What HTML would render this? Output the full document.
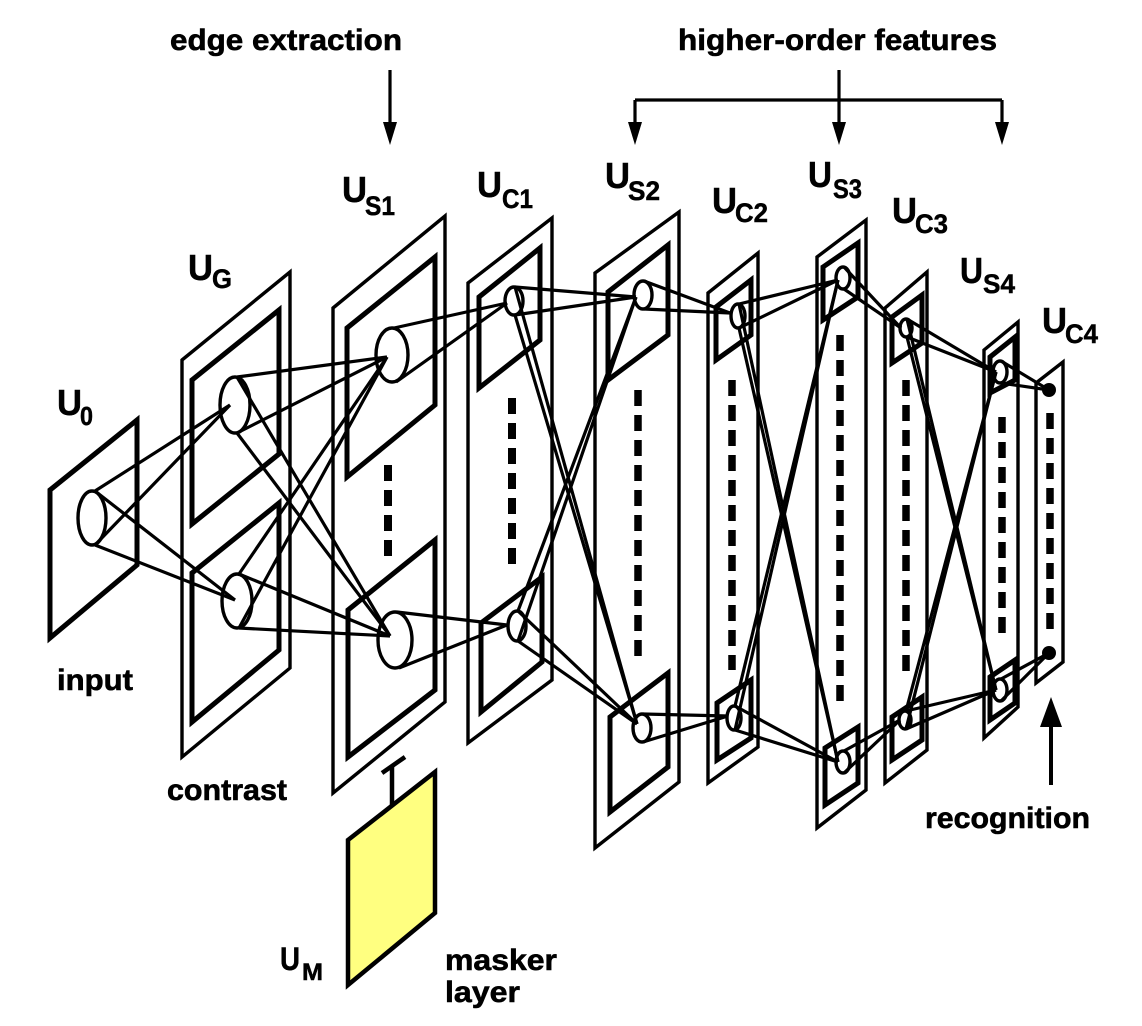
<!DOCTYPE html>
<html><head><meta charset="utf-8"><style>
html,body{margin:0;padding:0;background:#fff;}
svg{display:block;}
text{font-family:"Liberation Sans",Arial,sans-serif;font-weight:bold;fill:#000;}
</style></head><body>
<svg width="1142" height="1026" viewBox="0 0 1142 1026" xmlns="http://www.w3.org/2000/svg">
<rect width="1142" height="1026" fill="#fff"/>

<!-- top labels and arrows -->
<text x="170" y="50" font-size="30" textLength="232" lengthAdjust="spacingAndGlyphs" stroke="#000" stroke-width="0.6">edge extraction</text>
<text x="678" y="50" font-size="30" textLength="319" lengthAdjust="spacingAndGlyphs" stroke="#000" stroke-width="0.6">higher-order features</text>
<g stroke="#000" stroke-width="3.2" fill="none">
<line x1="390" y1="70" x2="390" y2="130"/>
<line x1="839" y1="70" x2="839" y2="130"/>
<line x1="635" y1="100" x2="1002" y2="100"/>
<line x1="635" y1="100" x2="635" y2="130"/>
<line x1="1002" y1="100" x2="1002" y2="130"/>
</g>
<g fill="#000">
<polygon points="383,122 397,122 390,145"/>
<polygon points="628,122 642,122 635,145"/>
<polygon points="832,122 846,122 839,145"/>
<polygon points="995,122 1009,122 1002,145"/>
</g>

<!-- planes: outer frames -->
<g fill="none" stroke="#000" stroke-linejoin="miter">
<polygon points="50,490 137,420 137,565 50,638" stroke-width="5"/>
<polygon points="182,360 290,272 290,668 182,757" stroke-width="3.4"/>
<polygon points="333,308 445,216 445,702 333,793" stroke-width="3.4"/>
<polygon points="468,283 552,218 552,680 468,743" stroke-width="3.4"/>
<polygon points="595,273 679,212 679,782 595,848" stroke-width="3.4"/>
<polygon points="708,293 758,253 758,747 708,783" stroke-width="3.4"/>
<polygon points="817,257 866,220 866,790 817,828" stroke-width="3.4"/>
<polygon points="885,308 927,272 927,750 885,783" stroke-width="3.4"/>
<polygon points="984,350 1018,322 1018,707 984,738" stroke-width="3.4"/>
<polygon points="1036,383 1063,362 1063,662 1036,683" stroke-width="3.4"/>
</g>
<!-- inner frames -->
<g fill="none" stroke="#000" stroke-width="5">
<polygon points="192,380 279,310 279,454 192,524"/>
<polygon points="192,573 279,503 279,650 192,722"/>
<polygon points="347,328 435,257 435,405 347,477"/>
<polygon points="348,610 435,540 435,690 348,757"/>
<polygon points="479,297 540,248 540,340 479,388"/>
<polygon points="481,623 542,577 542,662 481,712"/>
<polygon points="608,292 668,245 668,335 608,380"/>
<polygon points="610,717 668,673 668,767 610,812"/>
<polygon points="716,307 751,280 751,335 716,360"/>
<polygon points="717,703 751,680 751,738 717,760"/>
<polygon points="823,267 858,243 858,297 823,320"/>
<polygon points="825,748 858,727 858,783 825,805"/>
<polygon points="892,317 922,295 922,343 892,363"/>
<polygon points="892,717 922,697 922,740 892,760"/>
<polygon points="990,357 1015,337 1015,380 990,393"/>
<polygon points="990,677 1015,660 1015,703 990,720"/>
</g>

<!-- dashed columns -->
<g stroke="#000" fill="none" stroke-dasharray="16 9">
<line x1="388" y1="465" x2="388" y2="560" stroke-width="8"/>
<line x1="512" y1="398" x2="512" y2="567" stroke-width="8"/>
<line x1="638" y1="390" x2="638" y2="660" stroke-width="7.5"/>
<line x1="732" y1="380" x2="732" y2="670" stroke-width="7.5"/>
<line x1="840" y1="335" x2="840" y2="703" stroke-width="7.5"/>
<line x1="906" y1="380" x2="906" y2="673" stroke-width="7.5"/>
<line x1="1002" y1="417" x2="1002" y2="637" stroke-width="7.5"/>
<line x1="1050" y1="413" x2="1050" y2="630" stroke-width="7.5"/>
</g>

<!-- connection lines -->
<g stroke="#000" stroke-width="3.2" fill="none">
<!-- U0 -> UG -->
<line x1="95" y1="491" x2="230" y2="405"/>
<line x1="95" y1="545" x2="230" y2="405"/>
<line x1="95" y1="491" x2="235" y2="600"/>
<line x1="95" y1="545" x2="235" y2="600"/>
<!-- UG -> US1 -->
<line x1="237" y1="377" x2="387" y2="357"/>
<line x1="237" y1="433" x2="387" y2="357"/>
<line x1="237" y1="377" x2="390" y2="636"/>
<line x1="237" y1="433" x2="390" y2="636"/>
<line x1="239" y1="574" x2="387" y2="357"/>
<line x1="239" y1="628" x2="387" y2="357"/>
<line x1="239" y1="574" x2="390" y2="636"/>
<line x1="239" y1="628" x2="390" y2="636"/>
<!-- US1 -> UC1 -->
<line x1="394" y1="328" x2="507" y2="303"/>
<line x1="396" y1="382" x2="507" y2="303"/>
<line x1="397" y1="612" x2="507" y2="625"/>
<line x1="399" y1="668" x2="507" y2="625"/>
<!-- UC1 -> US2 -->
<line x1="515" y1="287" x2="636" y2="297"/>
<line x1="515" y1="315" x2="636" y2="297"/>
<line x1="515" y1="287" x2="637" y2="724"/>
<line x1="515" y1="315" x2="637" y2="724"/>
<line x1="518" y1="611" x2="636" y2="297"/>
<line x1="518" y1="641" x2="636" y2="297"/>
<line x1="518" y1="611" x2="637" y2="724"/>
<line x1="518" y1="641" x2="637" y2="724"/>
<!-- US2 -> UC2 -->
<line x1="644" y1="281" x2="730" y2="313"/>
<line x1="644" y1="309" x2="730" y2="313"/>
<line x1="643" y1="714" x2="728" y2="716"/>
<line x1="643" y1="742" x2="728" y2="716"/>
<!-- UC2 -> US3 -->
<line x1="739" y1="304" x2="838" y2="280"/>
<line x1="739" y1="328" x2="838" y2="280"/>
<line x1="739" y1="304" x2="838" y2="762"/>
<line x1="739" y1="328" x2="838" y2="762"/>
<line x1="735" y1="706" x2="838" y2="280"/>
<line x1="735" y1="730" x2="838" y2="280"/>
<line x1="735" y1="706" x2="838" y2="762"/>
<line x1="735" y1="730" x2="838" y2="762"/>
<!-- US3 -> UC3 -->
<line x1="844" y1="267" x2="901" y2="328"/>
<line x1="844" y1="289" x2="901" y2="328"/>
<line x1="844" y1="751" x2="900" y2="720"/>
<line x1="844" y1="773" x2="900" y2="720"/>
<!-- UC3 -> US4 -->
<line x1="907" y1="319" x2="996" y2="372"/>
<line x1="907" y1="337" x2="996" y2="372"/>
<line x1="907" y1="319" x2="996" y2="690"/>
<line x1="907" y1="337" x2="996" y2="690"/>
<line x1="906" y1="711" x2="996" y2="372"/>
<line x1="906" y1="729" x2="996" y2="372"/>
<line x1="906" y1="711" x2="996" y2="690"/>
<line x1="906" y1="729" x2="996" y2="690"/>
<!-- US4 -> UC4 -->
<line x1="1001" y1="361" x2="1049" y2="390"/>
<line x1="1001" y1="383" x2="1049" y2="390"/>
<line x1="1001" y1="679" x2="1049" y2="653"/>
<line x1="1001" y1="701" x2="1049" y2="653"/>
</g>

<!-- receptive field ellipses -->
<g fill="none" stroke="#000" stroke-width="3.4">
<ellipse cx="92" cy="518" rx="14" ry="27"/>
<ellipse cx="235" cy="405" rx="15" ry="28"/>
<ellipse cx="237" cy="601" rx="15" ry="27"/>
<ellipse cx="392" cy="355" rx="16" ry="27"/>
<ellipse cx="395" cy="640" rx="17" ry="28"/>
<ellipse cx="514" cy="301" rx="9" ry="14"/>
<ellipse cx="517" cy="626" rx="9" ry="15"/>
<ellipse cx="643" cy="295" rx="9" ry="14"/>
<ellipse cx="642" cy="728" rx="9" ry="14"/>
<ellipse cx="738" cy="316" rx="7" ry="12"/>
<ellipse cx="734" cy="718" rx="7" ry="12"/>
<ellipse cx="843" cy="278" rx="7" ry="11"/>
<ellipse cx="843" cy="762" rx="7" ry="11"/>
<ellipse cx="906" cy="328" rx="6" ry="9"/>
<ellipse cx="905" cy="720" rx="6" ry="9"/>
<ellipse cx="1000" cy="372" rx="7" ry="11"/>
<ellipse cx="1000" cy="690" rx="7" ry="11"/>
</g>
<circle cx="1049" cy="390" r="7" fill="#000"/>
<circle cx="1049" cy="653" r="7" fill="#000"/>

<!-- recognition arrow -->
<line x1="1051" y1="785" x2="1051" y2="720" stroke="#000" stroke-width="4"/>
<polygon points="1040,727 1062,727 1051,697" fill="#000"/>

<!-- masker layer -->
<polygon points="348,840 435,772 435,913 348,985" fill="#ffff80" stroke="#000" stroke-width="4.5"/>
<line x1="392" y1="765" x2="392" y2="806" stroke="#000" stroke-width="4.5"/>
<line x1="382" y1="773" x2="405" y2="757" stroke="#000" stroke-width="4.5"/>

<!-- layer labels -->
<g stroke="#000" stroke-width="0.5">
<text x="57" y="415" font-size="36" textLength="25" lengthAdjust="spacingAndGlyphs">U</text>
<text x="80" y="425" font-size="26" textLength="13" lengthAdjust="spacingAndGlyphs">0</text>
<text x="188" y="280" font-size="36" textLength="25" lengthAdjust="spacingAndGlyphs">U</text>
<text x="212" y="288" font-size="27" textLength="20" lengthAdjust="spacingAndGlyphs">G</text>
<text x="342" y="202" font-size="36" textLength="25" lengthAdjust="spacingAndGlyphs">U</text>
<text x="365" y="215" font-size="27" textLength="30" lengthAdjust="spacingAndGlyphs">S1</text>
<text x="477" y="197" font-size="36" textLength="25" lengthAdjust="spacingAndGlyphs">U</text>
<text x="502" y="208" font-size="27" textLength="31" lengthAdjust="spacingAndGlyphs">C1</text>
<text x="605" y="188" font-size="36" textLength="25" lengthAdjust="spacingAndGlyphs">U</text>
<text x="628" y="200" font-size="27" textLength="32" lengthAdjust="spacingAndGlyphs">S2</text>
<text x="712" y="213" font-size="36" textLength="25" lengthAdjust="spacingAndGlyphs">U</text>
<text x="735" y="222" font-size="27" textLength="33" lengthAdjust="spacingAndGlyphs">C2</text>
<text x="808" y="187" font-size="36" textLength="24" lengthAdjust="spacingAndGlyphs">U</text>
<text x="833" y="198" font-size="27" textLength="29" lengthAdjust="spacingAndGlyphs">S3</text>
<text x="892" y="223" font-size="36" textLength="25" lengthAdjust="spacingAndGlyphs">U</text>
<text x="915" y="233" font-size="27" textLength="33" lengthAdjust="spacingAndGlyphs">C3</text>
<text x="960" y="283" font-size="36" textLength="23" lengthAdjust="spacingAndGlyphs">U</text>
<text x="983" y="293" font-size="27" textLength="32" lengthAdjust="spacingAndGlyphs">S4</text>
<text x="1042" y="333" font-size="36" textLength="25" lengthAdjust="spacingAndGlyphs">U</text>
<text x="1065" y="343" font-size="27" textLength="33" lengthAdjust="spacingAndGlyphs">C4</text>
<text x="280" y="970" font-size="32" textLength="20" lengthAdjust="spacingAndGlyphs">U</text>
<text x="302" y="980" font-size="24" textLength="21" lengthAdjust="spacingAndGlyphs">M</text>
</g>

<!-- descriptive labels -->
<g stroke="#000" stroke-width="0.6">
<text x="57" y="690" font-size="30" textLength="76" lengthAdjust="spacingAndGlyphs">input</text>
<text x="167" y="800" font-size="30" textLength="120" lengthAdjust="spacingAndGlyphs">contrast</text>
<text x="925" y="828" font-size="30" textLength="165" lengthAdjust="spacingAndGlyphs">recognition</text>
<text x="445" y="970" font-size="30" textLength="112" lengthAdjust="spacingAndGlyphs">masker</text>
<text x="445" y="1002" font-size="30" textLength="75" lengthAdjust="spacingAndGlyphs">layer</text>
</g>
</svg>
</body></html>
